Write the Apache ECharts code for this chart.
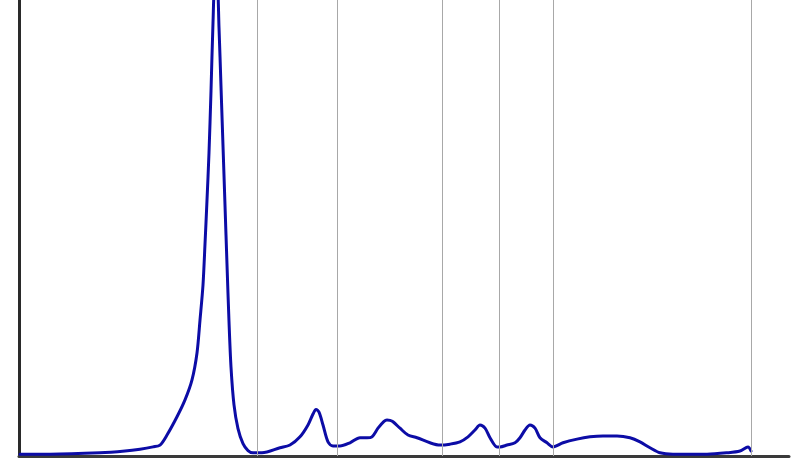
<!DOCTYPE html>
<html>
<head>
<meta charset="utf-8">
<script src="https://cdn.jsdelivr.net/npm/echarts@6/dist/echarts.min.js"></script>
<style>html,body{margin:0;padding:0;background:#fff}#c{width:809px;height:473px}</style>
</head>
<body>
<div id="c"></div>
<script>
var xValues = [1,31,81,106,121,134,141,148,158,166,173,178,181,184,186,188,190,192,194,196,198,200,202,204,206,208,210,212,215,219,224,229,234,243,261,271,281,289,294,297,300,304,309,314,321,331,341,348,353,359,365,368,371,374,381,389,398,411,421,431,441,449,456,461,466,471,478,481,488,496,501,506,511,516,521,528,534,544,558,571,584,598,611,621,631,641,654,688,708,721,729,732];
var yValues = [0.4,0.4,0.7,1.1,1.5,2.0,2.4,4.6,8.6,12.3,16.7,22.6,29.8,37.5,46.5,56.1,66.5,80.0,95.0,104.0,104.0,94.0,81.0,68.0,55.0,42.0,29.5,19.5,11.2,6.0,2.7,1.2,0.7,0.7,1.8,2.4,4.2,6.8,9.2,10.2,9.6,6.8,3.1,2.2,2.2,2.9,4.0,4.0,4.2,6.1,7.6,7.9,7.8,7.5,6.1,4.6,4.0,2.9,2.4,2.6,3.1,4.2,5.7,6.8,6.1,4.0,2.0,2.0,2.4,2.9,4.0,5.7,6.8,6.1,4.0,2.9,2.0,2.9,3.7,4.2,4.4,4.4,4.0,3.1,1.8,0.7,0.4,0.4,0.7,1.1,2.0,1.1];
var markerX = [238,318,423,480,534,732];

var data = xValues.map(function(x,i){return [x,yValues[i]];});
var chart = echarts.init(document.getElementById('c'));
chart.setOption({
  animation:false,
  grid:{left:19,right:20,top:0,bottom:17,containLabel:false},
  xAxis:{type:'value',min:0,max:770,
    axisLine:{show:true,onZero:false,lineStyle:{color:'#3a3a3a',width:3}},
    axisTick:{show:false},axisLabel:{show:false},splitLine:{show:false}},
  yAxis:{type:'value',min:0,max:100,
    axisLine:{show:true,lineStyle:{color:'#2a2a2a',width:3}},
    axisTick:{show:false},axisLabel:{show:false},splitLine:{show:false}},
  series:[{
    type:'line',data:data,smooth:0.3,showSymbol:false,clip:true,
    lineStyle:{color:'#0c0ca6',width:3,join:'round',cap:'round'},
    markLine:{silent:true,symbol:'none',label:{show:false},
      lineStyle:{color:'#a8a8a8',width:1,type:'solid'},
      data:markerX.map(function(v){return {xAxis:v};})},
    z:3
  }]
});
</script>
</body>
</html>
